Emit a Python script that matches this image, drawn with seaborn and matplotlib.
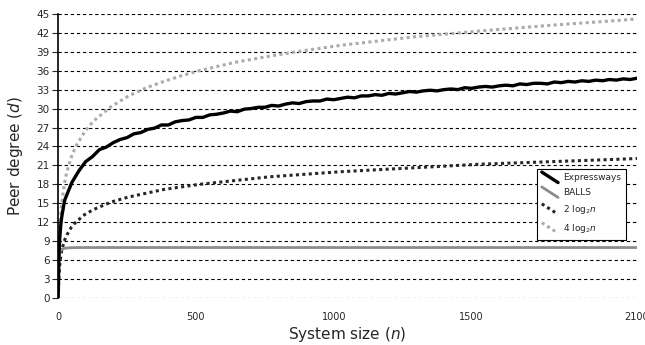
import numpy as np;
import pandas as pd;
import seaborn as sns;
import matplotlib.pyplot as plt;
from matplotlib.lines import Line2D;
from matplotlib.legend_handler import HandlerLine2D;

# ---------------------------------------------------------------------------
# DATA
# ---------------------------------------------------------------------------
expr_n = [0, 1, 2, 3, 4, 6, 8, 10, 12, 15, 18, 21] + list(range(25, 2101, 25));
expr_d = [0, 1.2, 4.0, 6.0, 7.5, 9.4, 10.6, 11.6, 12.4, 13.3, 14.0, 14.8,
          15.6, 18.3, 20.1, 21.6, 22.4, 23.5, 23.9, 24.6, 25.1, 25.4, 26.0, 26.2,
          26.7, 26.9, 27.4, 27.4, 27.9, 28.1, 28.2, 28.6, 28.6, 29.0, 29.1, 29.3,
          29.6, 29.5, 29.9, 30.0, 30.2, 30.2, 30.5, 30.4, 30.7, 30.9, 30.8, 31.1,
          31.2, 31.2, 31.5, 31.4, 31.6, 31.8, 31.7, 32.0, 32.0, 32.2, 32.1, 32.4,
          32.3, 32.5, 32.7, 32.6, 32.8, 32.9, 32.8, 33.0, 33.1, 33.0, 33.3, 33.2,
          33.4, 33.5, 33.4, 33.6, 33.7, 33.6, 33.9, 33.8, 34.0, 34.0, 33.9, 34.2,
          34.1, 34.3, 34.2, 34.4, 34.3, 34.5, 34.4, 34.6, 34.5, 34.7, 34.6, 34.8];

balls_n = [0, 1, 2, 3, 5, 8, 12, 20, 30, 50, 80, 120, 200, 2100];
balls_d = [0, 2.5, 4.5, 5.8, 6.8, 7.4, 7.7, 7.85, 7.93, 7.98, 8.0, 8.0, 8.0, 8.0];

log_n = [1, 2, 3, 4, 6, 8, 12, 16, 24, 32, 48, 64, 96, 128, 192, 256, 320,
         384, 448, 512, 640, 768, 896, 1024, 1280, 1536, 1792, 2048, 2100];
log2x_d = [0, 2.0, 3.2, 4.0, 5.2, 6.0, 7.2, 8.0, 9.2, 10.0, 11.2, 12.0, 13.2,
           14.0, 15.2, 16.0, 16.6, 17.2, 17.6, 18.0, 18.6, 19.2, 19.6, 20.0,
           20.6, 21.2, 21.6, 22.0, 22.1];
log4x_d = [0, 4.0, 6.3, 8.0, 10.3, 12.0, 14.3, 16.0, 18.3, 20.0, 22.3, 24.0,
           26.3, 28.0, 30.3, 32.0, 33.3, 34.3, 35.2, 36.0, 37.3, 38.3, 39.2,
           40.0, 41.3, 42.3, 43.2, 44.0, 44.2];

labels = ["Expressways", "BALLS", r"2 log$_2$$\it{n}$", r"4 log$_2$$\it{n}$"];
x_ticks = [0, 500, 1000, 1500, 2100];
y_ticks = list(range(0, 46, 3));

# ---------------------------------------------------------------------------
sns.set_style("white");
plt.rcParams['font.family'] = ['DejaVu Sans'];
plt.rcParams['mathtext.fontset'] = 'dejavusans';

fig, ax = plt.subplots(figsize=(6.45, 3.45), dpi=100);
fig.subplots_adjust(left=0.09, right=0.9876, bottom=0.136, top=0.96);

for yv in y_ticks:
    ax.axhline(yv, color='black', lw=0.8, ls=(0, (3, 2.5)), zorder=0);

dotted = (0, (1, 1.1));
sns.lineplot(x=log_n, y=log4x_d, ax=ax, color='#ababab', lw=2.2,
             linestyle=dotted, label=labels[3], zorder=2);
sns.lineplot(x=log_n, y=log2x_d, ax=ax, color='#262626', lw=2.2,
             linestyle=dotted, label=labels[2], zorder=2);
sns.lineplot(x=balls_n, y=balls_d, ax=ax, color='#8c8c8c', lw=2.0,
             label=labels[1], zorder=3);
sns.lineplot(x=expr_n, y=expr_d, ax=ax, color='black', lw=2.4,
             label=labels[0], zorder=4);

ax.set_xlim(0, 2100);
ax.set_ylim(0, 45);
ax.set_xticks(x_ticks);
ax.set_yticks(y_ticks);
ax.tick_params(axis='x', length=0, labelsize=7, pad=10);
ax.tick_params(axis='y', length=4, width=0.8, direction='out', left=True,
               labelsize=7.5, pad=2);
for s in ['top', 'right', 'bottom']:
    ax.spines[s].set_visible(False);
ax.spines['left'].set_color('black');
ax.spines['left'].set_linewidth(1.2);

ax.set_xlabel(r"System size ($\it{n}$)", fontsize=11, labelpad=2);
ax.set_ylabel(r"Peer degree ($\it{d}$)", fontsize=11, labelpad=8);


class DiagHandler(HandlerLine2D):
      def create_artists(self, legend, orig_handle, xdescent, ydescent,
                         width, height, fontsize, trans):
          x0 = -xdescent; y0 = -ydescent;
          line = Line2D([x0, x0 + width], [y0 + height + 1.5, y0 - 1.5]);
          self.update_prop(line, orig_handle, legend);
          line.set_transform(trans);
          return [line];


handles, labs = ax.get_legend_handles_labels();
order = [labs.index(l) for l in labels];
leg = ax.legend([handles[i] for i in order], [labs[i] for i in order],
                loc='upper left', bbox_to_anchor=(0.82, 0.47),
                fontsize=6.5, frameon=True, fancybox=False, framealpha=1,
                edgecolor='black', handlelength=1.8, handletextpad=0.6,
                borderpad=0.5, labelspacing=0.65,
                handler_map={Line2D: DiagHandler()});
leg.get_frame().set_linewidth(0.8);
leg.set_zorder(10);

fig.savefig("out.png", dpi=100);
